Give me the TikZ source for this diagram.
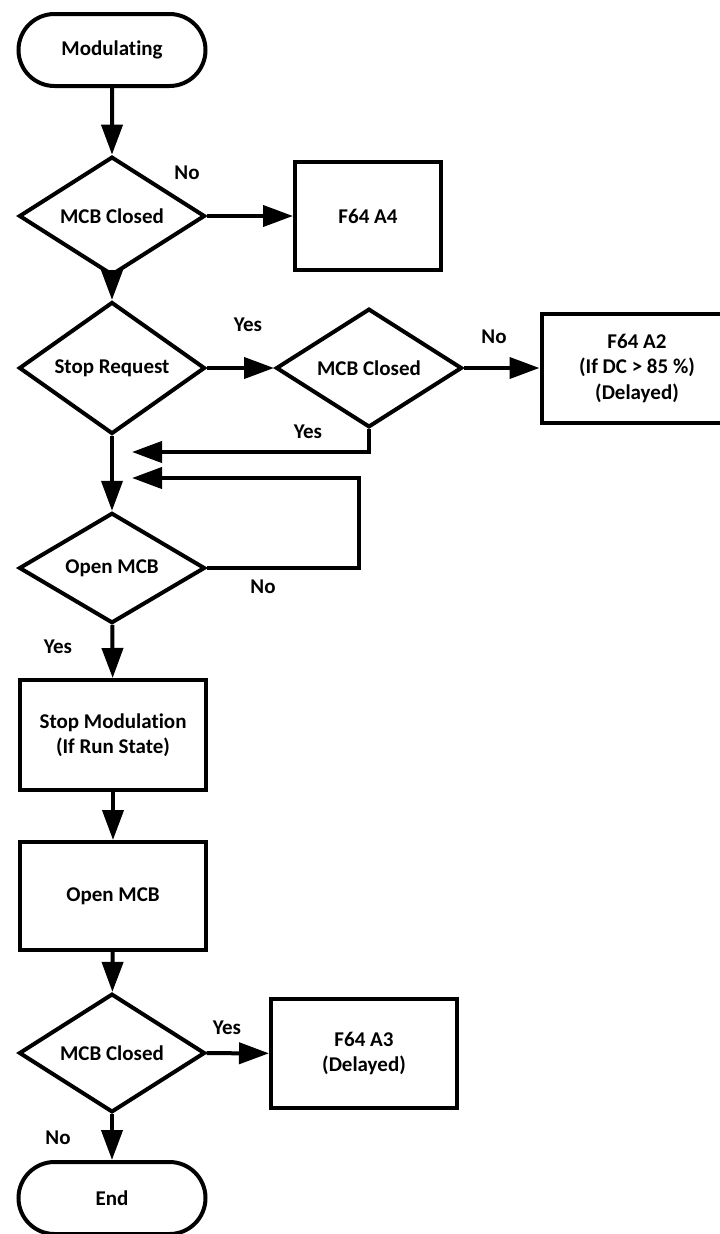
\documentclass[tikz,border=0pt]{standalone}
\usepackage{fontspec}
\setmainfont{Carlito}[RawFeature=-liga]
\usetikzlibrary{shapes.geometric,shapes.misc,arrows.meta}
\begin{document}
\begin{tikzpicture}[x=1pt,y=-1pt,
  every node/.style={font=\fontsize{21}{25.5}\selectfont\bfseries},
  flow/.style={line width=4pt},
  arr/.style={flow,-{Triangle[length=30pt,width=21pt]}},
  term/.style={draw,flow,rounded rectangle,minimum width=187pt,minimum height=72pt,inner sep=0pt,align=center},
  dec/.style={draw,flow,diamond,minimum width=186pt,minimum height=109pt,inner sep=0pt,align=center},
  proc/.style={draw,flow,rectangle,inner sep=0pt,align=center},
  lbl/.style={inner sep=0pt}]
\clip (0,0) rectangle (720,1234);
\useasboundingbox (0,0) rectangle (720,1234);

\node[term] (start) at (112,50) {Modulating};
\node[dec] (d1) at (112,216) {MCB Closed};
\node[proc,minimum width=146pt,minimum height=108pt] (a4) at (368,216) {F64 A4};
\node[dec] (d2) at (112,368) {Stop Request};
\node[dec] (d3) at (369,368) {MCB Closed};
\node[proc,minimum width=191pt,minimum height=109pt] (a2) at (637,368) {F64 A2\\(If DC > 85 \%)\\(Delayed)};
\node[dec] (d4) at (112,568) {Open MCB};
\node[proc,minimum width=186pt,minimum height=110pt] (sm) at (113,735) {Stop Modulation\\(If Run State)};
\node[proc,minimum width=186pt,minimum height=108pt] (om) at (113,896) {Open MCB};
\node[dec] (d5) at (112,1053) {MCB Closed};
\node[proc,minimum width=186pt,minimum height=109pt] (a3) at (364,1053.5) {F64 A3\\(Delayed)};
\node[term] (end) at (112,1198) {End};

\coordinate (yesend) at (132,452);
\coordinate (loopc) at (359,478);
\coordinate (loopend) at (132,478);

\draw[arr] (start) -- (d1);
\draw[arr] (d1) -- (a4);
\draw[arr] (d1) -- (d2);
\draw[arr] (d2) -- (d3);
\draw[arr] (d3) -- (a2);
\draw[arr] (d3.south) |- (yesend);
\draw[arr] (d2) -- (d4);
\draw[arr] (d4.east) -| (loopc) -- (loopend);
\draw[arr] (d4) -- (sm);
\draw[arr] (sm) -- (om);
\draw[arr] (om) -- (d5);
\draw[arr] (d5) -- (a3);
\draw[arr] (d5) -- (end);

\node[lbl] (l1) at (187,173) {No};
\node[lbl] (l2) at (248,325) {Yes};
\node[lbl] (l3) at (494,337) {No};
\node[lbl] (l4) at (308,432) {Yes};
\node[lbl] (l5) at (263,587) {No};
\node[lbl] (l6) at (58,647) {Yes};
\node[lbl] (l7) at (227,1028) {Yes};
\node[lbl] (l8) at (58,1138) {No};
\end{tikzpicture}
\end{document}
